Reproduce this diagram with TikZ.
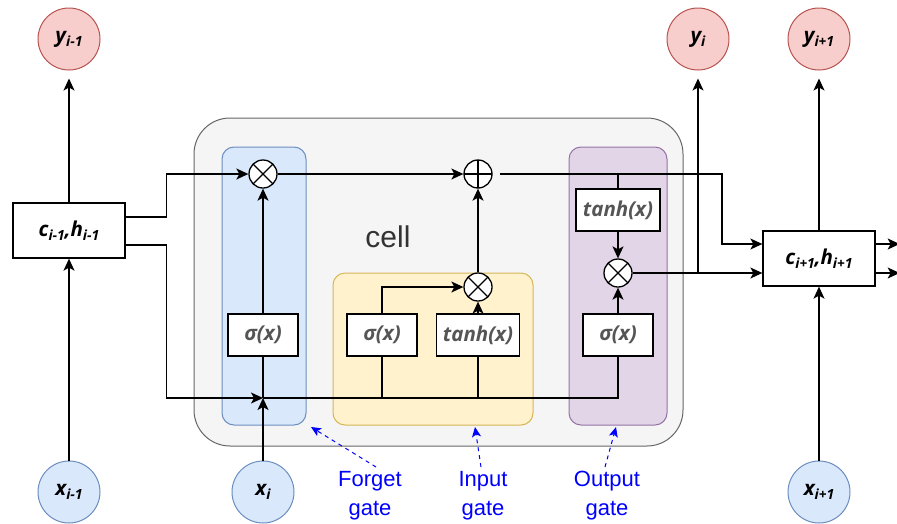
\documentclass[tikz,border=0pt]{standalone}
\usepackage{fontspec}
\setmainfont{Open Sans}
\newfontfamily\arialf{Liberation Sans}
\usetikzlibrary{arrows.meta}
\definecolor{redfill}{HTML}{F8CECC}
\definecolor{reddraw}{HTML}{B85450}
\definecolor{bluefill}{HTML}{DAE8FC}
\definecolor{bluedraw}{HTML}{6C8EBF}
\definecolor{cellfill}{HTML}{F5F5F5}
\definecolor{celldraw}{HTML}{666666}
\definecolor{yelfill}{HTML}{FFF2CC}
\definecolor{yeldraw}{HTML}{D6B656}
\definecolor{purfill}{HTML}{E1D5E7}
\definecolor{purdraw}{HTML}{9673A6}
\definecolor{fntext}{HTML}{555555}
\definecolor{celltext}{HTML}{333333}
\definecolor{gateblue}{HTML}{0000FF}
\newcommand\sbx[1]{\raisebox{-0.35ex}{\fontsize{14}{14}\selectfont #1}}
\begin{document}
\begin{tikzpicture}[x=1pt,y=-1pt, line width=1.3pt,
  >={Stealth[length=12pt,width=11pt,inset=3pt]},
  lbl/.style={font=\fontsize{20.5}{20.5}\selectfont\bfseries\itshape},
  circ/.style={circle, minimum size=62pt, inner sep=0pt, lbl, line width=1pt},
  yc/.style={circ, fill=redfill, draw=reddraw},
  xc/.style={circ, fill=bluefill, draw=bluedraw},
  fnbox/.style={draw, fill=white, minimum width=70pt, minimum height=42pt, inner sep=0pt, lbl, text=fntext},
  hbox/.style={draw, fill=white, minimum width=112pt, minimum height=55pt, inner sep=0pt, lbl},
  mul/.style={circle, draw, fill=white, minimum size=28pt, inner sep=0pt,
    path picture={\draw (path picture bounding box.south west) -- (path picture bounding box.north east)
      (path picture bounding box.north west) -- (path picture bounding box.south east);}},
  add/.style={circle, draw, fill=white, minimum size=28pt, inner sep=0pt,
    path picture={\draw (path picture bounding box.west) -- (path picture bounding box.east)
      (path picture bounding box.north) -- (path picture bounding box.south);}},
  gatebox/.style={rounded corners=12pt, line width=1pt},
  gatelbl/.style={font=\arialf\fontsize{22}{29}\selectfont, text=gateblue, align=center},
  gatearrow/.style={draw=gateblue, line width=1pt, dash pattern=on 4pt off 4pt, -{Stealth[length=10pt,width=9pt,inset=2.5pt]}}
]
\useasboundingbox (0,0) rectangle (897,523);
% cell and gates
\draw[fill=cellfill, draw=celldraw, line width=1pt, rounded corners=36pt] (194,118) rectangle (683,446);
\draw[gatebox, fill=bluefill, draw=bluedraw] (222,147) rectangle (306,425);
\draw[gatebox, fill=yelfill, draw=yeldraw] (333,273) rectangle (533,425);
\draw[gatebox, fill=purfill, draw=purdraw] (569,147) rectangle (667,425);
\node[font=\arialf\fontsize{30}{30}\selectfont, text=celltext] (celltxt) at (388,237) {cell};

% nodes
\node[yc] (ym1) at (69,39) {y\sbx{i-1}};
\node[yc] (yi) at (698,39) {y\sbx{i}};
\node[yc] (yp1) at (819,39) {y\sbx{i+1}};
\node[xc] (xm1) at (69,492) {x\sbx{i-1}};
\node[xc] (xi) at (263,492) {x\sbx{i}};
\node[xc] (xp1) at (819,492) {x\sbx{i+1}};
\node[hbox] (L) at (69,230.5) {c\sbx{i-1},h\sbx{i-1}};
\node[hbox] (R) at (819,258.5) {c\sbx{i+1},h\sbx{i+1}};

\node[mul] (fx) at (263,174) {};
\node[add] (op) at (478,174) {};
\node[mul] (ix) at (478,287) {};
\node[mul] (ox) at (618,273) {};
\node[fnbox] (fs) at (263,335) {σ(x)};
\node[fnbox] (is) at (382,335) {σ(x)};
\node[fnbox, minimum width=83pt] (it) at (478,335) {tanh(x)};
\node[fnbox, minimum width=84pt] (ot) at (618,210) {tanh(x)};
\node[fnbox] (os) at (618,335) {σ(x)};

\coordinate (J) at (263,398);
\coordinate (k1) at (722,174);

% connectors
\draw[->] (L.north) -- ([yshift=-8pt]ym1.south);
\draw[->] (xm1) -- (L);
\draw[->] ([yshift=13.5pt]L.east) -- ++(41,0) |- (fx);
\draw[->] ([yshift=-14.5pt]L.east) -- ++(41,0) |- (J);
\draw[->] (xi) -- (J);
\draw (J) -- (fs);
\draw[->] (fs) -- (fx);
\draw[->] (fx) -- (op);
\draw (J) -| (os);
\draw (is.south) -- (is.south |- J);
\draw (it.south) -- (it.south |- J);
\draw[->] (is.north) |- (ix);
\draw[->] (it) -- (ix);
\draw[->] (ix) -- (op);
\draw[->] ([xshift=7pt]op.east) -- (k1) |- ([yshift=14.5pt]R.west);
\draw (ot.north) -- (ot.north |- op);
\draw[->] (ot) -- (ox);
\draw[->] (os) -- (ox);
\draw[->] (ox) -- ([yshift=-14.5pt]R.west);
\draw[->] (ox.east -| yi.south) -- ([yshift=-8pt]yi.south);
\draw[->] (R.north) -- ([yshift=-8pt]yp1.south);
\draw[->] (xp1) -- (R);
\draw[->] ([yshift=14.5pt]R.east) -- ++(24,0);
\draw[->] ([yshift=-14.5pt]R.east) -- ++(24,0);

% gate labels
\node[gatelbl] (lf) at (370,496) {Forget\\gate};
\node[gatelbl] (li) at (483,496) {Input\\gate};
\node[gatelbl] (lo) at (607,496) {Output\\gate};
\coordinate (tf) at (311,427);
\coordinate (ti) at (475,427);
\coordinate (to) at (616,427);
\draw[gatearrow] (376,467) -- (tf);
\draw[gatearrow] (481,467) -- (ti);
\draw[gatearrow] (605,467) -- (to);
\end{tikzpicture}
\end{document}
